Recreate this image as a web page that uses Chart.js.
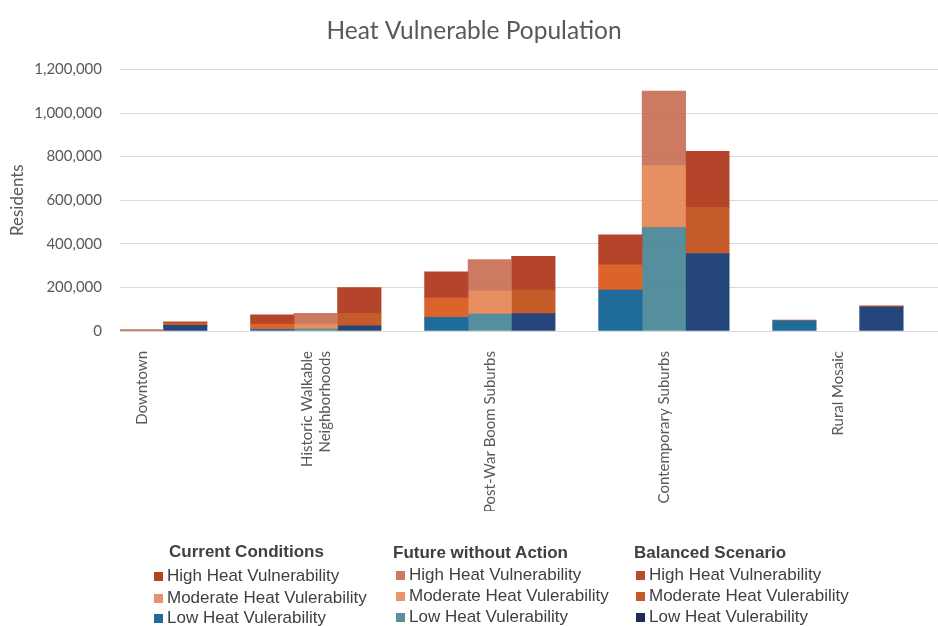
<!DOCTYPE html>
<html>
<head>
<meta charset="utf-8">
<script src="https://cdn.jsdelivr.net/npm/chart.js@4.4.1/dist/chart.umd.min.js"></script>
<style>
  html, body { margin: 0; padding: 0; background: #fff; }
  #wrap { position: relative; width: 938px; height: 626px; overflow: hidden; }
  #chart { position: absolute; left: 0; top: 0; }
  .lg { position: absolute; font-family: "Liberation Sans", Arial, sans-serif; font-size: 17px; line-height: 20px; color: #404040; white-space: nowrap; }
  .lg.head { font-weight: bold; }
  .sw { position: absolute; width: 9px; height: 9px; }
</style>
</head>
<body>
<div id="wrap"><canvas id="chart" width="938" height="626"></canvas></div>
<script>
const categories = ["Downtown", ["Historic Walkable", "Neighborhoods"], "Post-War Boom Suburbs", "Contemporary Suburbs", "Rural Mosaic"];
const yTicks = [0, 200000, 400000, 600000, 800000, 1000000, 1200000];
const scenarios = ["Current Conditions", "Future without Action", "Balanced Scenario"];
const levels = ["High Heat Vulnerability", "Moderate Heat Vulerability", "Low Heat Vulerability"];

// residents per category; null = no column drawn for that scenario
const currentLow = [null, 8000, 63000, 188000, 47000];
const currentModerate = [null, 24000, 89000, 115000, 1000];
const currentHigh = [null, 42000, 119000, 138000, 2000];

const futureLow = [0, 9000, 78000, 474000, null];
const futureModerate = [1000, 23000, 106000, 285000, null];
const futureHigh = [6000, 49000, 144000, 341000, null];

const balancedLow = [26000, 24000, 80000, 355000, 110000];
const balancedModerate = [12000, 57000, 108000, 212000, 2000];
const balancedHigh = [4000, 118000, 155000, 257000, 3000];

// each category takes 4 slots on the x axis: current, future, balanced, gap
const slotOffset = [-1, 0, 1];

const barColors = [
  ["#1f6b99", "#dc6329", "#b5452a"],
  ["rgba(67,131,148,0.9)", "rgba(227,132,81,0.9)", "rgba(198,108,81,0.9)"],
  ["#24467a", "#c55b28", "#b5452a"]
];
// legend swatches (high, moderate, low) as they appear in the key
const swatchColors = [
  ["#b3431f", "#e8916e", "#1e6b9a"],
  ["#cc7a62", "#e8956a", "#5a8fa0"],
  ["#bb4a30", "#c55a28", "#1c2c52"]
];

const seriesByScenario = [
  [currentLow, currentModerate, currentHigh],
  [futureLow, futureModerate, futureHigh],
  [balancedLow, balancedModerate, balancedHigh]
];

function toPoints(values, offset) {
  return values
    .map((v, i) => v == null ? null : { x: i * 4 + offset, y: v })
    .filter(p => p !== null);
}

const datasets = [];
seriesByScenario.forEach((group, s) => {
  group.forEach((values, l) => {
    datasets.push({
      label: scenarios[s] + " - " + levels[2 - l],
      data: toPoints(values, slotOffset[s]),
      backgroundColor: barColors[s][l],
      borderWidth: 0,
      stack: "all",
      barPercentage: 1,
      categoryPercentage: 1
    });
  });
});

const textColor = "#595959";
const chartFont = "Lato";

new Chart(document.getElementById("chart").getContext("2d"), {
  type: "bar",
  data: { datasets: datasets },
  options: {
    responsive: false,
    animation: false,
    devicePixelRatio: 1,
    layout: { padding: { left: 10, right: 0, top: 0, bottom: 115 } },
    plugins: {
      legend: { display: false },
      tooltip: { enabled: false },
      title: {
        display: true,
        text: "Heat Vulnerable Population",
        color: textColor,
        font: { family: chartFont, size: 24.5, weight: "normal" },
        padding: { top: 16, bottom: 24 }
      }
    },
    scales: {
      x: {
        type: "linear",
        min: -0.5,
        max: 18.3,
        offset: false,
        stacked: true,
        grid: { display: false },
        border: { display: false },
        // two-line labels are nudged left so both lines sit around the tick
        afterBuildTicks: s => {
          s.ticks = categories.map((c, i) => ({ value: i * 4 - (Array.isArray(c) ? 0.2 : 0) }));
        },
        afterFit: s => { s.height = 180; },
        ticks: {
          autoSkip: false,
          minRotation: 90,
          maxRotation: 90,
          padding: 12,
          color: textColor,
          font: { family: chartFont, size: 15 },
          callback: (v, i) => categories[i]
        }
      },
      y: {
        min: 0,
        max: 1200000,
        stacked: true,
        afterBuildTicks: s => { s.ticks = yTicks.map(v => ({ value: v })); },
        afterFit: s => { s.width = 110; },
        grid: { color: "#d9d9d9", drawTicks: false },
        border: { display: false },
        ticks: {
          padding: 18,
          color: textColor,
          font: { family: chartFont, size: 15 },
          callback: v => v.toLocaleString("en-US")
        },
        title: {
          display: true,
          text: "Residents",
          color: textColor,
          font: { family: chartFont, size: 17 },
          padding: { top: -3, bottom: 0 }
        }
      }
    }
  }
});

// custom three-column key below the chart
const wrap = document.getElementById("wrap");
const colSwatchX = [154, 396, 636];
const colHeadX = [169, 393, 634];
const headY = [552, 553, 553];
const rowY = [[576, 598, 618], [575, 596, 617], [575, 596, 617]];

function addText(txt, x, yCenter, bold) {
  const d = document.createElement("div");
  d.className = bold ? "lg head" : "lg";
  d.textContent = txt;
  d.style.left = x + "px";
  d.style.top = (yCenter - 10) + "px";
  wrap.appendChild(d);
}

scenarios.forEach((name, s) => {
  addText(name, colHeadX[s], headY[s], true);
  levels.forEach((lvl, r) => {
    const sw = document.createElement("div");
    sw.className = "sw";
    sw.style.background = swatchColors[s][r];
    sw.style.left = colSwatchX[s] + "px";
    sw.style.top = (rowY[s][r] - 4) + "px";
    wrap.appendChild(sw);
    addText(lvl, colSwatchX[s] + 13, rowY[s][r], false);
  });
});
</script>
</body>
</html>
